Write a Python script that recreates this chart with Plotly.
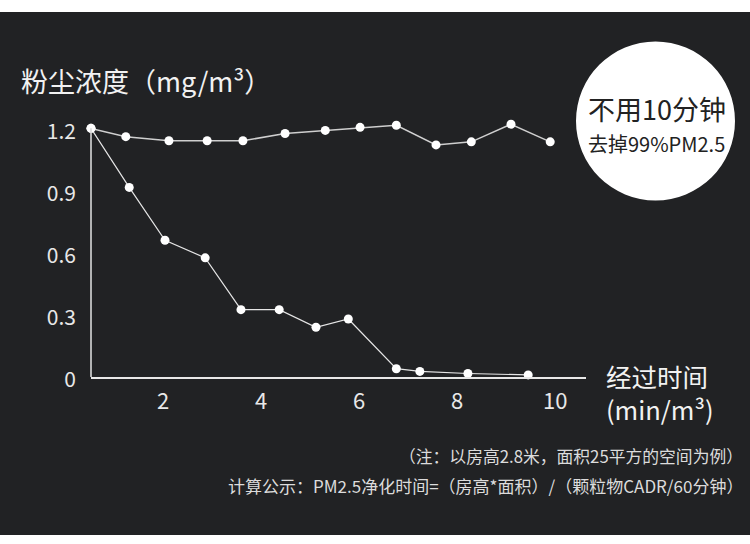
import plotly.graph_objects as go

# ---- data ----
time_untreated = [0.53, 1.24, 2.12, 2.90, 3.63, 4.49, 5.31, 6.02, 6.76, 7.57, 8.29, 9.10, 9.90]
dust_untreated = [1.20, 1.16, 1.14, 1.14, 1.14, 1.175, 1.19, 1.205, 1.215, 1.12, 1.135, 1.22, 1.135]

time_purified = [0.53, 1.31, 2.04, 2.86, 3.59, 4.37, 5.12, 5.78, 6.76, 7.24, 8.22, 9.45]
dust_purified = [1.20, 0.915, 0.66, 0.575, 0.325, 0.325, 0.24, 0.28, 0.04, 0.027, 0.017, 0.01]

y_tick_vals = [0, 0.3, 0.6, 0.9, 1.2]
y_tick_text = ["0", "0.3", "0.6", "0.9", "1.2"]
x_tick_vals = [2, 4, 6, 8, 10]
x_tick_text = ["2", "4", "6", "8", "10"]

y_title = "粉尘浓度（mg/m³）"
x_title = "经过时间<br>(min/m³)"
badge_1 = "不用10分钟"
badge_2 = "去掉99%PM2.5"
note_1 = "（注：以房高2.8米，面积25平方的空间为例）"
note_2 = "计算公示：PM2.5净化时间=（房高*面积）/（颗粒物CADR/60分钟）"

# ---- layout geometry (pixels) ----
W, H = 750, 544
ML, MR, MT, MB = 91, 164, 118, 167
PW, PH = W - ML - MR, H - MT - MB
BG = "#212224"
FONT = "Noto Sans CJK SC"


def px(x):
    return (x - ML) / PW


def py(y):
    return (H - MB - y) / PH


fig = go.Figure()
fig.add_trace(go.Scatter(
    x=time_untreated, y=dust_untreated, mode="lines+markers",
    line=dict(color="#cfcfcf", width=1.5),
    marker=dict(color="#ffffff", size=9),
    cliponaxis=False, showlegend=False, hoverinfo="skip"))
fig.add_trace(go.Scatter(
    x=time_purified, y=dust_purified, mode="lines+markers",
    line=dict(color="#e6e6e6", width=1.2),
    marker=dict(color="#ffffff", size=9),
    cliponaxis=False, showlegend=False, hoverinfo="skip"))

fig.update_xaxes(
    range=[0.53, 10.63], showgrid=False, zeroline=False,
    showline=True, linecolor="#e8e8e8", linewidth=1.6,
    tickvals=x_tick_vals, ticktext=x_tick_text, ticks="",
    ticklabelstandoff=4,
    tickfont=dict(family=FONT, size=22, color="#e8e8e8"))
fig.update_yaxes(
    range=[0, 1.25], showgrid=False, zeroline=False, showline=False,
    tickvals=y_tick_vals, ticktext=y_tick_text, ticks="",
    ticklabelstandoff=14, ticklabelshift=3,
    tickfont=dict(family=FONT, size=21, color="#e8e8e8"))

shapes = [
    # y axis line from 0 to 1.2
    dict(type="line", xref="paper", yref="y", x0=0, x1=0, y0=0, y1=1.2,
         line=dict(color="#d8d8d8", width=1.6)),
    # white top band
    dict(type="rect", xref="paper", yref="paper", x0=px(0), x1=px(W),
         y0=py(0), y1=py(12), fillcolor="#ffffff", line=dict(width=0), layer="above"),
    # white bottom band
    dict(type="rect", xref="paper", yref="paper", x0=px(0), x1=px(W),
         y0=py(535), y1=py(H), fillcolor="#ffffff", line=dict(width=0), layer="above"),
    # badge circle
    dict(type="circle", xref="paper", yref="paper", x0=px(576), x1=px(735),
         y0=py(200.5), y1=py(41.5), fillcolor="#ffffff", line=dict(width=0), layer="above"),
]

annotations = [
    dict(text=y_title, x=px(19), y=py(80), xanchor="left", yanchor="middle",
         font=dict(family=FONT, size=27, color="#f2f2f2")),
    dict(text=x_title, x=px(604), y=py(392), xanchor="left", yanchor="middle",
         align="left", font=dict(family=FONT, size=25.5, color="#f2f2f2")),
    dict(text=badge_1, x=px(657), y=py(108), xanchor="center", yanchor="middle",
         font=dict(family=FONT, size=27, color="#222222")),
    dict(text=badge_2, x=px(656), y=py(143), xanchor="center", yanchor="middle",
         font=dict(family=FONT, size=20, color="#222222")),
    dict(text=note_1, x=px(745), y=py(456), xanchor="right", yanchor="middle",
         font=dict(family=FONT, size=16.8, color="#dcdcdc")),
    dict(text=note_2, x=px(745), y=py(485), xanchor="right", yanchor="middle",
         font=dict(family=FONT, size=17, color="#dcdcdc")),
]
for a in annotations:
    a.update(xref="paper", yref="paper", showarrow=False)

fig.update_layout(
    width=W, height=H,
    margin=dict(l=ML, r=MR, t=MT, b=MB),
    paper_bgcolor=BG, plot_bgcolor=BG,
    shapes=shapes, annotations=annotations,
    font=dict(family=FONT),
)

fig.write_html(
    "out.html",
    config={"displayModeBar": False},
    post_script="document.body.style.margin='0';document.body.style.overflow='hidden';",
)
